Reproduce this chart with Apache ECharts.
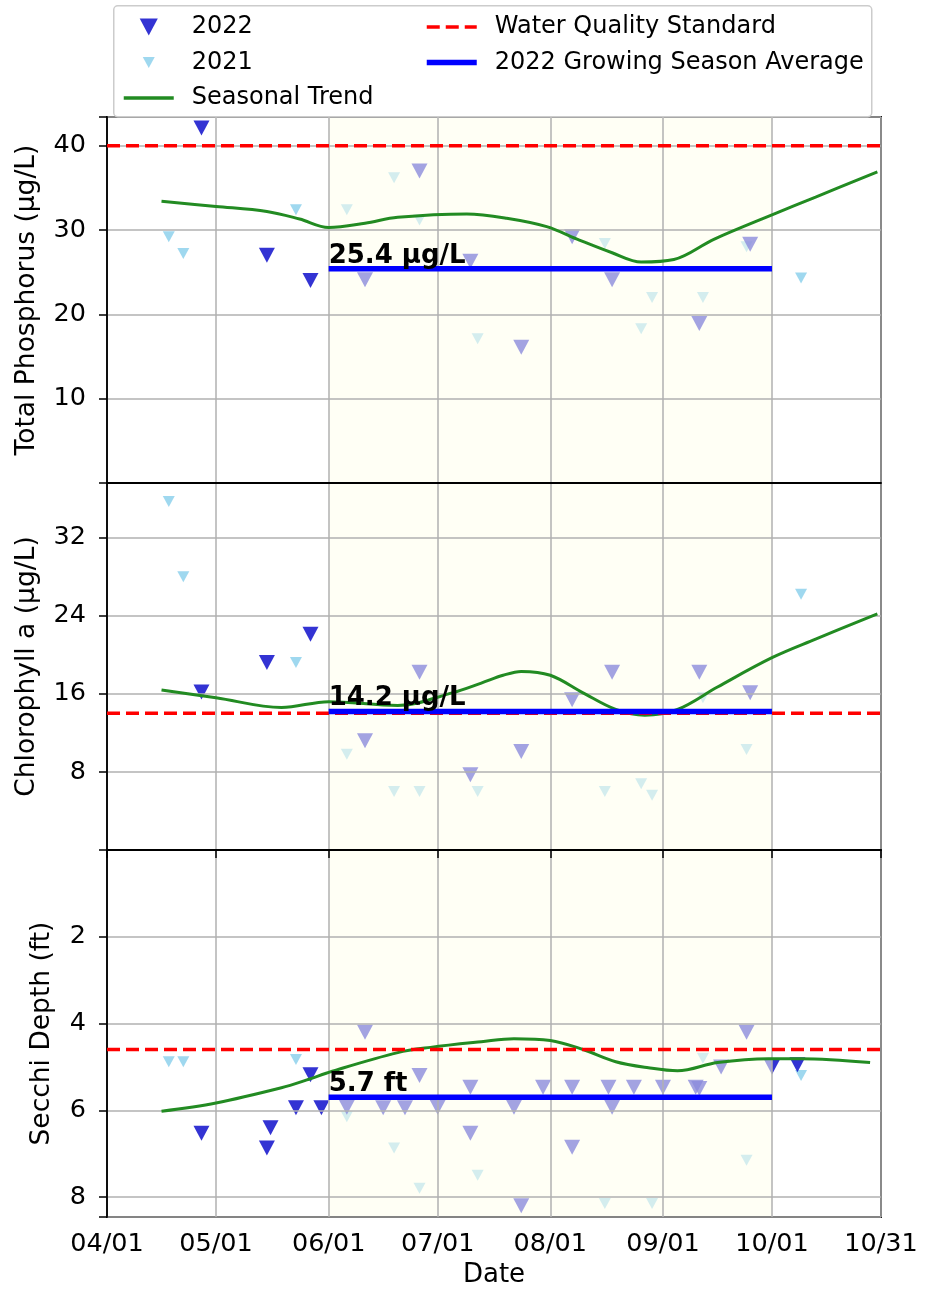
<!DOCTYPE html>
<html><head><meta charset="utf-8">
<script src="https://cdn.jsdelivr.net/npm/echarts@6/dist/echarts.min.js"></script>
<style>html,body{margin:0;padding:0;background:#fff}#c{width:926px;height:1294px}</style>
</head><body><div id="c"></div>
<script>
// ---------- DATA ----------
const xTickDates  = ['04-01','05-01','06-01','07-01','08-01','09-01','10-01','10-31'];
const xTickLabels = ['04/01','05/01','06/01','07/01','08/01','09/01','10/01','10/31'];
const seasonStart = '06-01';
const seasonEnd   = '10-01';

// 2022 sampling dates (phosphorus & chlorophyll)
const dates2022 = ['04-27','05-15','05-27','06-11','06-26','07-10','07-24','08-07','08-18','09-11','09-25'];
const tp2022    = [42.1, 27.0, 24.0, 24.1, 37.0, 26.3, 16.1, 29.2, 24.1, 18.9, 28.3];
const chl2022   = [16.2, 19.2, 22.1, 11.2, 18.2, 7.7, 10.1, 15.4, 18.2, 18.2, 16.1];

// 2022 Secchi dates / depths
const secchiDates2022 = ['04-27','05-15','05-16','05-23','05-27','05-30','06-06','06-11','06-16','06-22','06-26','07-01','07-10','07-10','07-22','07-24','07-30','08-07','08-07','08-17','08-18','08-24','09-01','09-10','09-11','09-17','09-24','10-01','10-08'];
const secchi2022      = [6.53, 6.87, 6.4, 5.94, 5.18, 5.94, 5.93, 4.2, 5.94, 5.94, 5.2, 5.93, 5.47, 6.53, 5.93, 8.2, 5.47, 5.47, 6.85, 5.47, 5.93, 5.47, 5.47, 5.47, 5.5, 5.0, 4.2, 5.0, 4.95];

// 2021 sampling dates (plotted on the same season axis)
const dates2021  = ['04-18','04-22','05-23','06-06','06-19','06-26','07-12','08-16','08-26','08-29','09-12','09-24','10-09'];
const tp2021     = [29.2, 27.2, 32.4, 32.4, 36.2, 31.2, 17.1, 28.4, 18.3, 22.0, 22.0, 28.0, 24.3];
const chl2021    = [35.7, 28.0, 19.2, 9.8, 6.0, 6.0, 6.0, 6.0, 6.8, 5.6, 15.6, 10.3, 26.2];
const secchi2021 = [4.88, 4.88, 4.83, 6.15, 6.87, 7.8, 7.5, 8.15, null, 8.15, 4.8, 7.15, 5.2];

// Seasonal trends
const tpTrendDates  = ['04-16','05-01','05-15','05-24','06-01','06-11','06-20','07-09','07-20','07-31','08-09','08-18','08-26','09-04','09-15','10-01','10-13','10-30'];
const tpTrend       = [33.4, 32.8, 32.2, 31.3, 30.3, 30.8, 31.5, 31.9, 31.4, 30.4, 28.8, 27.3, 26.2, 26.5, 28.9, 31.8, 33.9, 36.9];
const chlTrendDates = ['04-16','05-01','05-19','06-01','06-20','07-05','07-13','07-19','07-24','08-01','08-10','08-19','08-27','09-05','09-16','10-01','10-13','10-30'];
const chlTrend      = [16.4, 15.6, 14.6, 15.2, 14.8, 16.1, 17.1, 17.9, 18.3, 17.9, 16.1, 14.4, 13.8, 14.4, 16.7, 19.7, 21.6, 24.2];
const secTrendDates = ['04-16','05-01','05-19','05-26','06-02','06-20','06-29','07-13','07-22','08-01','08-10','08-19','08-28','09-05','09-16','09-30','10-09','10-28'];
const secTrend      = [6.02, 5.83, 5.48, 5.3, 5.1, 4.67, 4.55, 4.42, 4.35, 4.39, 4.6, 4.88, 5.02, 5.09, 4.9, 4.81, 4.81, 4.9];

// Standards and growing-season averages
const standards   = [40, 14, 4.6];
const averages    = [25.4, 14.2, 5.7];
const avgLabels   = ['25.4 μg/L', '14.2 μg/L', '5.7 ft'];
const yNames      = ['Total Phosphorus (μg/L)', 'Chlorophyll a (μg/L)', 'Secchi Depth (ft)'];

// ---------- BUILD ----------
const t = s => { const p = s.split('-').map(Number); return new Date(2022, p[0] - 1, p[1]).getTime(); };
const pairs = (ds, vs) => ds.map((d, i) => [t(d), vs[i]]);
const tickTs = xTickDates.map(t);
const FONT = 'DejaVu Sans';
const TRI = 'path://M0,0L16,0L8,15Z';
const TRI_SMALL_LEGEND = 'path://M-3,-3M0,0L12,0L6,11ZM15,14';

const panels = [
  { top: 117, height: 366, min: 0, max: 43.4, interval: 10, inverse: false, nameGap: 66,
    s22: pairs(dates2022, tp2022), s21: pairs(dates2021, tp2021), trend: pairs(tpTrendDates, tpTrend) },
  { top: 483, height: 367, min: 0, max: 37.6, interval: 8, inverse: false, nameGap: 66,
    s22: pairs(dates2022, chl2022), s21: pairs(dates2021, chl2021), trend: pairs(chlTrendDates, chlTrend) },
  { top: 850, height: 367, min: 0, max: 8.46, interval: 2, inverse: true, nameGap: 51,
    s22: pairs(secchiDates2022, secchi2022), s21: pairs(dates2021, secchi2021), trend: pairs(secTrendDates, secTrend) }
];

const grids = [], xAxes = [], yAxes = [], series = [];
panels.forEach((p, i) => {
  const last = i === panels.length - 1;
  grids.push({ left: 107, right: 45, top: p.top, height: p.height, show: true,
    borderColor: '#000', borderWidth: 1.8, backgroundColor: 'transparent', z: 4 });
  xAxes.push({
    gridIndex: i, type: 'value', min: tickTs[0], max: tickTs[tickTs.length - 1], z: 4,
    axisLine: { show: true, lineStyle: { color: '#000', width: 1.8 } },
    axisTick: { show: last, customValues: tickTs, length: 8, lineStyle: { color: '#000', width: 1.5 } },
    axisLabel: { show: last, customValues: tickTs, margin: 14, fontSize: 25.5, color: '#000', fontFamily: FONT,
      formatter: v => { const k = tickTs.indexOf(v); return k >= 0 ? xTickLabels[k] : ''; } },
    splitLine: { show: true, lineStyle: { color: '#b0b0b0', width: 1.5 } },
    name: last ? 'Date' : '', nameLocation: 'middle', nameGap: 45,
    nameTextStyle: { fontSize: 26, color: '#000', fontFamily: FONT }
  });
  yAxes.push({
    gridIndex: i, type: 'value', min: p.min, max: p.max, interval: p.interval, inverse: p.inverse, z: 4,
    axisLine: { show: true, lineStyle: { color: '#000', width: 1.8 } },
    axisTick: { show: true, length: 8, lineStyle: { color: '#000', width: 1.5 } },
    axisLabel: { margin: 21, fontSize: 25.5, color: '#000', fontFamily: FONT,
      formatter: v => (v > 0 && Math.abs(v / p.interval - Math.round(v / p.interval)) < 1e-9) ? String(v) : '' },
    splitLine: { show: true, lineStyle: { color: '#b0b0b0', width: 1.5 } },
    name: yNames[i], nameLocation: 'middle', nameGap: p.nameGap,
    nameTextStyle: { fontSize: 26.5, color: '#000', fontFamily: FONT }
  });
  series.push({
    name: '2021', type: 'scatter', xAxisIndex: i, yAxisIndex: i, z: 2,
    symbol: TRI, symbolSize: [12, 11], data: p.s21,
    itemStyle: { color: '#87ceeb', opacity: 0.8 }
  });
  series.push({
    name: '2022', type: 'scatter', xAxisIndex: i, yAxisIndex: i, z: 2,
    symbol: TRI, symbolSize: [16, 15], data: p.s22,
    itemStyle: { color: '#0000c8' }
  });
  series.push({
    name: 'span', type: 'line', xAxisIndex: i, yAxisIndex: i, z: 3, data: [], silent: true,
    markArea: { silent: true, z: 3, itemStyle: { color: 'rgba(255,255,236,0.55)' },
      data: [[{ xAxis: t(seasonStart) }, { xAxis: t(seasonEnd) }]] }
  });
  series.push({
    name: 'Seasonal Trend', type: 'line', xAxisIndex: i, yAxisIndex: i, z: 5,
    data: p.trend, smooth: 0.35, symbol: 'none', showSymbol: false,
    lineStyle: { color: '#228b22', width: 3 }, itemStyle: { color: '#228b22' }
  });
  series.push({
    name: 'Water Quality Standard', type: 'line', xAxisIndex: i, yAxisIndex: i, z: 5,
    data: [[tickTs[0], standards[i]], [tickTs[tickTs.length - 1], standards[i]]],
    symbol: 'none', lineStyle: { color: '#ff0000', width: 3.5, type: [13, 6] }, itemStyle: { color: '#ff0000' }
  });
  series.push({
    name: '2022 Growing Season Average', type: 'line', xAxisIndex: i, yAxisIndex: i, z: 6,
    data: [[t(seasonStart), averages[i]], [t(seasonEnd), averages[i]]],
    symbol: 'circle', symbolSize: 0, showSymbol: true,
    lineStyle: { color: '#0000ff', width: 5.5 }, itemStyle: { color: '#0000ff' },
    label: { show: true, position: 'top', distance: 0, align: 'left',
      formatter: prm => prm.dataIndex === 0 ? avgLabels[i] : '',
      fontSize: 26, fontWeight: 'bold', color: '#000', fontFamily: FONT }
  });
});

const legendCommon = {
  orient: 'vertical', itemWidth: 50, itemHeight: 17, itemGap: 11.5, padding: 0, top: 15, z: 11,
  textStyle: { fontSize: 24, color: '#000', fontFamily: FONT, padding: [0, 0, 0, 13] },
  lineStyle: { width: 3.5 }
};

const option = {
  animation: false,
  backgroundColor: '#ffffff',
  textStyle: { fontFamily: FONT },
  grid: grids, xAxis: xAxes, yAxis: yAxes, series: series,
  legend: [
    Object.assign({}, legendCommon, { left: 122,
      data: [{ name: '2022', icon: TRI }, { name: '2021', icon: TRI_SMALL_LEGEND },
             { name: 'Seasonal Trend', itemStyle: { opacity: 0 } }] }),
    Object.assign({}, legendCommon, { left: 425,
      data: [{ name: 'Water Quality Standard', itemStyle: { opacity: 0 } },
             { name: '2022 Growing Season Average', icon: 'path://M0,0L50,0L50,5.5L0,5.5Z' }] })
  ],
  graphic: [{ type: 'rect', left: 113, top: 5, z: 10,
    shape: { width: 758, height: 111, r: 4 },
    style: { fill: 'rgba(255,255,255,0.9)', stroke: '#cccccc', lineWidth: 1.5 } }]
};

const chart = echarts.init(document.getElementById('c'), null, { renderer: 'canvas' });
chart.setOption(option);
</script>
</body></html>
